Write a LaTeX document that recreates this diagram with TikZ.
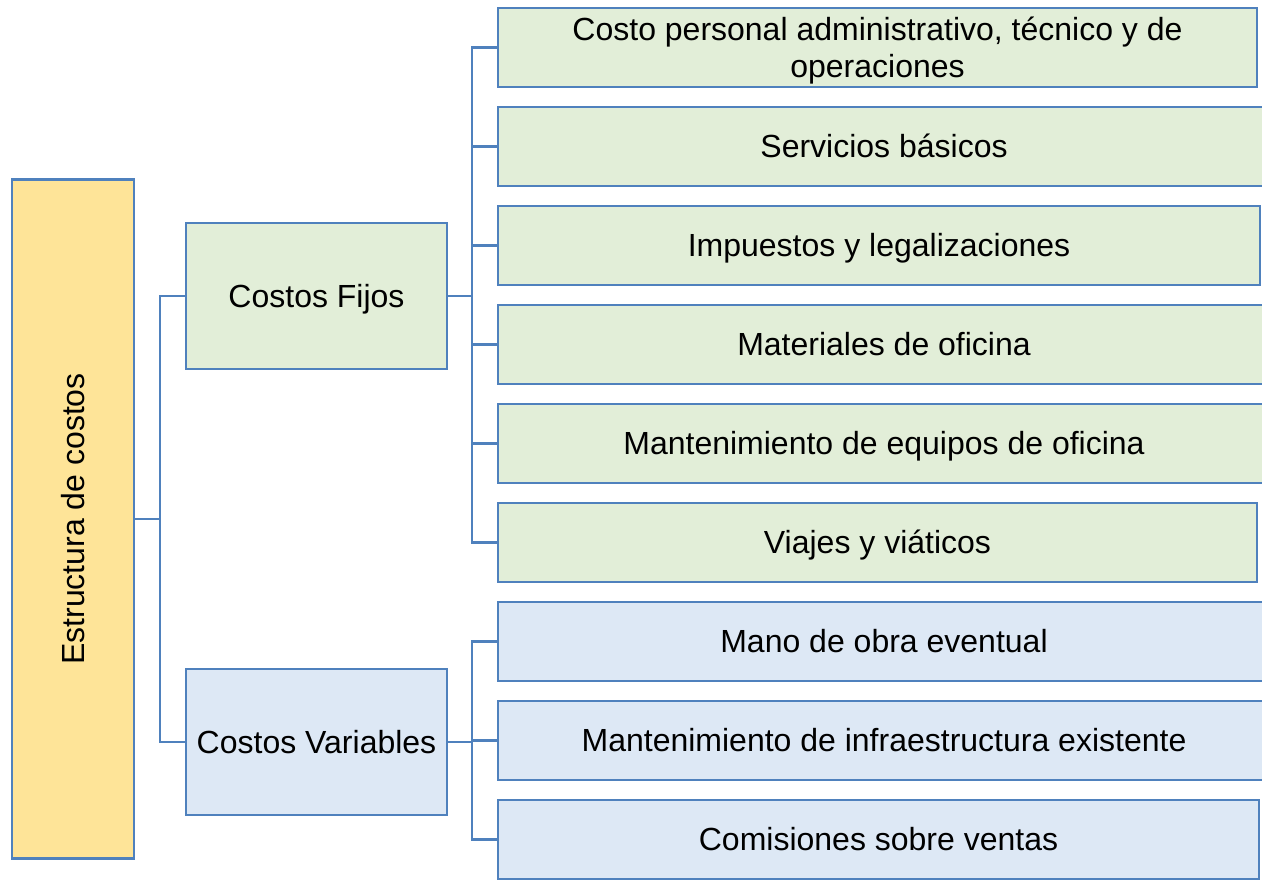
\documentclass[tikz,border=0pt]{standalone}
\usepackage{fontspec}
\setmainfont{Liberation Sans}
\usepackage{tikz}
\definecolor{edgeblue}{RGB}{79,129,189}
\definecolor{fillgreen}{RGB}{226,238,216}
\definecolor{fillblue}{RGB}{221,232,245}
\definecolor{fillyellow}{RGB}{254,228,152}
\tikzset{
	box/.style={rectangle,draw=edgeblue,line width=1.3pt,inner sep=2pt,align=center,font=\fontsize{16}{18.5}\selectfont,text height=14.5pt,text depth=3.4pt},
	rootbox/.style={box,fill=fillyellow,rotate=90,minimum width=339.5pt,minimum height=61pt},
	midfix/.style={box,fill=fillgreen,minimum width=130.5pt,minimum height=73pt},
	midvar/.style={box,fill=fillblue,minimum width=130.5pt,minimum height=73pt},
	leaffix/.style={box,fill=fillgreen,minimum height=39.5pt},
	leafvar/.style={box,fill=fillblue,minimum height=39.5pt},
	twoline/.style={text height=33pt,inner ysep=0pt},
	oneline/.style={},
	link/.style={draw=edgeblue,line width=1.1pt},
	}

\begin{document}
\begin{tikzpicture}[x=0.5pt,y=-0.5pt]
\useasboundingbox (0,0) rectangle (1262,880);

\node[rootbox] (root) at (73,519) {Estructura de costos};
\node[midfix] (fijos) at (316.5,296) {Costos Fijos};
\node[midvar] (var) at (316.5,742) {Costos Variables};

% fixed costs
\foreach \i/\r/\o/\t in {1/1257/twoline/{Costo personal administrativo, técnico y de\\operaciones},
	2/1270/oneline/{Servicios básicos},3/1260/oneline/{Impuestos y legalizaciones},
	4/1270/oneline/{Materiales de oficina},5/1270/oneline/{Mantenimiento de equipos de oficina},
	6/1257/oneline/{Viajes y viáticos}}
	\node[leaffix,\o,minimum width={(\r-498)*0.5pt}] (f\i) at ({(498+\r)/2},{47.5+99*(\i-1)}) {\t};

% variable costs
\foreach \i/\r/\t in {1/1270/{Mano de obra eventual},
	2/1270/{Mantenimiento de infraestructura existente},
	3/1259/{Comisiones sobre ventas}}
	\node[leafvar,minimum width={(\r-498)*0.5pt}] (v\i) at ({(498+\r)/2},{641.5+99*(\i-1)}) {\t};

\coordinate (rb) at (160,519);
\coordinate (fb) at (472,296);
\coordinate (vb) at (472,742);

\draw[link] (root.south) -- (rb);
\draw[link] (rb) |- (fijos.west);
\draw[link] (rb) |- (var.west);
\draw[link] (fijos.east) -- (fb);
\draw[link] (var.east) -- (vb);
\foreach \i in {1,...,6}
	\draw[link] (fb) |- (f\i.west);
\foreach \i in {1,2,3}
	\draw[link] (vb) |- (v\i.west);
\end{tikzpicture}
\end{document}
